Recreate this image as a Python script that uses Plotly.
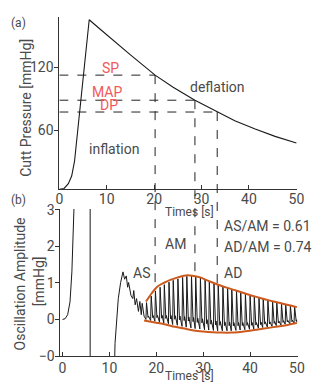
import plotly.graph_objects as go

W, H = 321, 392

# ---------------- data ----------------
# (a) cuff pressure
cuff_t = [0, 1.0, 1.9, 2.6, 3.2, 4.0, 5.3, 6.3, 8.5, 11.4, 15.0, 20.2, 24.0, 28.6, 33.3, 37.0, 41.3, 45.5, 50.0]
cuff_p = [3.4, 4.2, 8.7, 16, 30, 64, 118, 165.6, 157, 145.6, 132, 112.6, 101, 88.6, 77.3, 69, 61, 54, 47.7]

SP, MAP, DP = 112.6, 88.6, 77.3
t_SP, t_MAP, t_DP = 20.2, 28.6, 33.3

# (b) oscillation amplitude: early part (inflation artefact + first jagged beats)
pre_t = [0, 0.56, 1.1, 1.6, 2.0, 2.6, 2.9, 3.2, 5.9, 5.9, 11.0, 11.2, 11.9, 12.4, 12.9, 13.25, 13.6,
         13.9, 14.1, 14.6, 15.0, 15.2, 15.5, 15.8, 16.2, 16.5, 16.8, 17.0, 17.4]
pre_v = [0, 0.02, 0.13, 0.48, 1.3, 3.05, 4.0, 6.0, 6.0, -2.0, -2.0, -0.66, 0.57, 1.01, 1.3, 1.1, 1.19,
         0.88, 1.01, 0.66, 0.57, 0.79, 0.40, 0.57, 0.22, 0.49, 0.13, 0.44, 0.09]

# oscillation beats: onset time, peak and trough amplitude
beat_t = [17.8, 18.8, 19.7, 20.7, 21.6, 22.6, 23.5, 24.5, 25.5, 26.4, 27.4, 28.3, 29.3, 30.3, 31.2, 32.2, 33.1,
          34.1, 35.1, 36.0, 37.0, 37.9, 38.9, 39.9, 40.8, 41.8, 42.7, 43.7, 44.7, 45.6, 46.6, 47.5, 48.5, 49.4]
beat_peak = [0.46, 0.64, 0.78, 0.88, 0.95, 1.02, 1.07, 1.11, 1.15, 1.18, 1.19, 1.17, 1.13, 1.09, 1.04, 0.99, 0.95,
             0.90, 0.86, 0.82, 0.78, 0.74, 0.70, 0.66, 0.63, 0.59, 0.56, 0.52, 0.49, 0.46, 0.43, 0.40, 0.37, 0.35]
beat_trough = [0.0, -0.03, -0.05, -0.08, -0.10, -0.12, -0.14, -0.16, -0.19, -0.21, -0.23, -0.25, -0.26, -0.28, -0.29, -0.30, -0.31,
               -0.31, -0.31, -0.31, -0.30, -0.29, -0.28, -0.27, -0.26, -0.24, -0.22, -0.21, -0.19, -0.17, -0.15, -0.13, -0.12, -0.10]
end_t, end_v = 50.0, -0.08

# envelopes
up_t = [17.8, 18.5, 19.0, 19.8, 20.5, 21.8, 23.0, 24.6, 26.6, 28.0, 29.4, 31.0, 32.8, 35.0, 37.0, 39.0, 41.0, 43.0, 45.0, 47.0, 49.6, 50.0]
up_v = [0.49, 0.62, 0.71, 0.84, 0.92, 1.01, 1.08, 1.15, 1.21, 1.19, 1.15, 1.06, 0.97, 0.87, 0.79, 0.71, 0.63, 0.56, 0.49, 0.43, 0.35, 0.34]
lo_t = [17.4, 20.0, 22.0, 24.0, 26.0, 28.0, 30.0, 32.0, 34.0, 36.0, 38.0, 40.0, 42.0, 44.0, 46.0, 48.0, 50.0]
lo_v = [-0.03, -0.09, -0.14, -0.20, -0.25, -0.30, -0.33, -0.35, -0.36, -0.36, -0.34, -0.31, -0.27, -0.23, -0.19, -0.15, -0.10]

x_ticks = [0, 10, 20, 30, 40, 50]
ya_ticks = [60, 120]
yb_ticks = [3, 2, 1, 0, -1]
yb_ticktext = ["3", "2", "1", "0", "\u22120"]

# ---------------- build oscillation trace ----------------
osc_t = list(pre_t)
osc_v = list(pre_v)
for i, (t, p, q) in enumerate(zip(beat_t, beat_peak, beat_trough)):
    a = p - q
    osc_t += [t, t + 0.12, t + 0.45, t + 0.55]
    osc_v += [q, p, q + 0.12 * a, q + 0.2 * a]
osc_t.append(end_t)
osc_v.append(end_v)

# ---------------- layout geometry ----------------
def px(x):
    return x / W

def py(y):
    return 1 - y / H

xa_dom = [px(57.3), px(303.5)]
ya_dom = [py(189.5), py(10)]
xb_dom = [px(58.3), px(304.0)]
yb_dom = [py(363.3), py(210)]
xa_rng = [0, 50.15]
ya_rng = [3.4, 168.6]
xb_rng = [-0.47, 50.15]
yb_rng = [-1.01, 3.02]

def a_paper(v):
    return ya_dom[0] + (v - ya_rng[0]) / (ya_rng[1] - ya_rng[0]) * (ya_dom[1] - ya_dom[0])

def b_paper(v):
    return yb_dom[0] + (v - yb_rng[0]) / (yb_rng[1] - yb_rng[0]) * (yb_dom[1] - yb_dom[0])

FONT = "Roboto"
TXT = "#4a4a4a"
RED = "#f0595a"
ORANGE = "#cc5a1e"
LINE = "#1a1a1a"

fig = go.Figure()
fig.add_trace(go.Scatter(x=cuff_t, y=cuff_p, mode="lines", line=dict(color=LINE, width=1.1),
                         xaxis="x", yaxis="y", showlegend=False))
fig.add_trace(go.Scatter(x=osc_t, y=osc_v, mode="lines", line=dict(color=LINE, width=1),
                         xaxis="x2", yaxis="y2", showlegend=False))
fig.add_trace(go.Scatter(x=up_t, y=up_v, mode="lines", line=dict(color=ORANGE, width=2, shape="spline"),
                         xaxis="x2", yaxis="y2", showlegend=False))
fig.add_trace(go.Scatter(x=lo_t, y=lo_v, mode="lines", line=dict(color=ORANGE, width=2, shape="spline"),
                         xaxis="x2", yaxis="y2", showlegend=False))

axis_common = dict(showgrid=False, zeroline=False, showline=True, linecolor="#333", linewidth=1,
                   tickfont=dict(family=FONT, size=14, color=TXT), tickcolor="#333", ticklen=4)

fig.update_layout(
    width=W, height=H, autosize=False,
    margin=dict(l=0, r=0, t=0, b=0),
    paper_bgcolor="white", plot_bgcolor="white",
    xaxis=dict(domain=xa_dom, range=xa_rng, anchor="y", tickvals=x_ticks, ticks="inside",
               ticklabelstandoff=-3, **axis_common),
    yaxis=dict(domain=ya_dom, range=ya_rng, anchor="x", tickvals=ya_ticks, ticks="outside",
               ticklabelstandoff=-2, **axis_common),
    xaxis2=dict(domain=xb_dom, range=xb_rng, anchor="y2", tickvals=x_ticks, ticks="inside",
                ticklabelstandoff=-1, **axis_common),
    yaxis2=dict(domain=yb_dom, range=yb_rng, anchor="x2", tickvals=yb_ticks, ticktext=yb_ticktext,
                ticks="outside", ticklabelstandoff=-2, **axis_common),
)

dash = dict(color="#222", width=1, dash="dash")
shapes = []
for lvl, t in [(SP, t_SP), (MAP, t_MAP), (DP, t_DP)]:
    shapes.append(dict(type="line", xref="x", yref="y", x0=0, x1=t, y0=lvl, y1=lvl, line=dash))
# vertical dashed lines running down into panel (b) to the upper envelope
for lvl, t, env in [(SP, t_SP, 0.88), (MAP, t_MAP, 1.18), (DP, t_DP, 0.96)]:
    shapes.append(dict(type="line", xref="x", yref="paper", x0=t, x1=t,
                       y0=a_paper(lvl), y1=b_paper(env), line=dash))
fig.update_layout(shapes=shapes)

ann = []
def txt(x, y, s, xref="x", yref="y", color=TXT, size=14, xanchor="center", angle=0):
    ann.append(dict(x=x, y=y, xref=xref, yref=yref, text=s, showarrow=False, xanchor=xanchor,
                    yanchor="middle", textangle=angle,
                    font=dict(family=FONT, size=size, color=color)))

txt(10.7, 119.6, "SP", color=RED)
txt(10.1, 96.0, "MAP", color=RED)
txt(10.4, 84.0, "DP", color=RED)
txt(11.5, 42.0, "inflation")
txt(33.4, 101.0, "deflation")

txt(14.6, 1.28, "AS", xref="x2", yref="y2", xanchor="left")
txt(21.5, 2.07, "AM", xref="x2", yref="y2", xanchor="left")
txt(34.0, 1.26, "AD", xref="x2", yref="y2", xanchor="left")
txt(34.0, 2.56, "AS/AM = 0.61", xref="x2", yref="y2", xanchor="left")
txt(34.0, 1.99, "AD/AM = 0.74", xref="x2", yref="y2", xanchor="left")

txt(px(15), py(17), "(a)", xref="paper", yref="paper", size=12)
txt(px(15), py(201), "(b)", xref="paper", yref="paper", size=12)
txt(px(192), py(213), "Times [s]", xref="paper", yref="paper", size=12)
txt(px(192), py(384), "Times [s]", xref="paper", yref="paper", size=12)
txt(px(22), py(104.5), "Cutt Pressure [mmHg]", xref="paper", yref="paper", angle=-90)
txt(px(17.5), py(287.5), "Oscillation Amplitude", xref="paper", yref="paper", angle=-90)
txt(px(36.5), py(285), "[mmHg]", xref="paper", yref="paper", angle=-90)

fig.update_layout(annotations=ann)
fig.write_html("out.html")
